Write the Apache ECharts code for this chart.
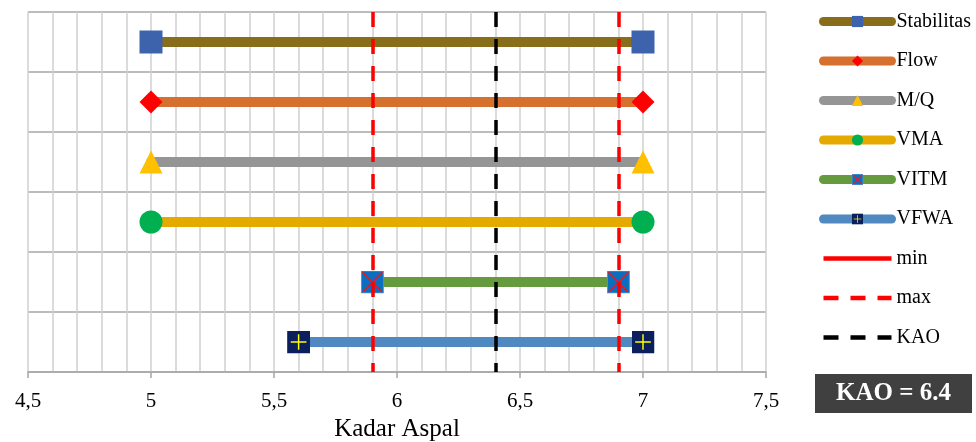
<!DOCTYPE html>
<html>
<head>
<meta charset="utf-8">
<script src="https://cdn.jsdelivr.net/npm/echarts@6/dist/echarts.min.js"></script>
<style>
  html, body { margin: 0; padding: 0; background: #fff; }
  #chart { width: 976px; height: 442px; }
</style>
</head>
<body>
<div id="chart"></div>
<script>
// Parameter ranges (asphalt content %) that satisfy each specification
const categories = ['Stabilitas', 'Flow', 'M/Q', 'VMA', 'VITM', 'VFWA'];
const rangeStart = [5, 5, 5, 5, 5.9, 5.6];
const rangeEnd   = [7, 7, 7, 7, 6.9, 7];

// Overlap limits and optimum asphalt content
const limitMin = 5.9;
const limitMax = 6.9;
const kao = 6.4;

// Axis scale
const xMin = 4.5;
const xMax = 7.5;
const xStep = 0.5;

const SERIF = '"Liberation Serif", "Times New Roman", serif';

const lineColors = ['#886D1B', '#D5702F', '#959595', '#E5AA00', '#659A3F', '#5089C0'];
const markerColors = ['#3C63AC', '#FF0000', '#FFC000', '#00B050', '#0070C0', '#0A1F5C'];

function svgSymbol(svg) {
  return 'image://data:image/svg+xml;charset=utf-8,' + encodeURIComponent(svg);
}
const crossBox = svgSymbol(
  "<svg xmlns='http://www.w3.org/2000/svg' width='44' height='44' viewBox='0 0 44 44'>" +
  "<rect x='1' y='1' width='42' height='42' fill='#0A6FC0' stroke='#4E93D2' stroke-width='2'/>" +
  "<path d='M3 3L41 41M41 3L3 41' stroke='#FF1010' stroke-width='2.8'/></svg>");
const plusBox = svgSymbol(
  "<svg xmlns='http://www.w3.org/2000/svg' width='44' height='44' viewBox='0 0 44 44'>" +
  "<rect x='0' y='0' width='44' height='44' fill='#0A1F5C'/>" +
  "<path d='M22 7V37M7 22H37' stroke='#FFFF00' stroke-width='2.8'/></svg>");
const symbols = ['rect', 'diamond', 'triangle', 'circle', crossBox, plusBox];

const rangeSeries = categories.map((name, i) => ({
  name: name,
  type: 'line',
  data: [[rangeStart[i], name], [rangeEnd[i], name]],
  symbol: symbols[i],
  symbolSize: 23,
  showAllSymbol: true,
  lineStyle: { color: lineColors[i], width: 10, cap: 'round' },
  itemStyle: { color: markerColors[i] },
  z: 3,
  silent: true
}));

function limitSeries(name, value, color, legendType) {
  return {
    name: name,
    type: 'line',
    data: [],
    symbol: 'none',
    lineStyle: { color: color, width: 4, type: legendType },
    z: 6,
    markLine: {
      silent: true,
      symbol: 'none',
      label: { show: false },
      lineStyle: { color: color, width: 3.5, type: [15, 12] },
      data: [{ xAxis: value }]
    }
  };
}

const chart = echarts.init(document.getElementById('chart'), null, { renderer: 'canvas' });

chart.setOption({
  animation: false,
  backgroundColor: '#ffffff',
  grid: { left: 28, right: 210, top: 12, bottom: 70, containLabel: false, outerBoundsMode: 'none' },
  legend: {
    orient: 'vertical',
    left: 819,
    top: 11.5,
    padding: 0,
    itemWidth: 68,
    itemHeight: 14,
    itemGap: 19.5,
    textStyle: { fontFamily: SERIF, fontSize: 20, color: '#000' },
    data: categories.map(n => ({ name: n, lineStyle: { width: 9, cap: 'round' } }))
      .concat(['min', 'max', 'KAO'].map(n => ({
        name: n, itemStyle: { opacity: 0 }, lineStyle: { width: 4.5 }
      })))
  },
  xAxis: {
    type: 'value',
    min: xMin,
    max: xMax,
    interval: xStep,
    name: 'Kadar Aspal',
    nameLocation: 'middle',
    nameGap: 42,
    nameTextStyle: { fontFamily: SERIF, fontSize: 25, color: '#000' },
    axisLine: { show: true, lineStyle: { color: '#A6A6A6', width: 1.5 } },
    axisTick: { show: true, length: 6, lineStyle: { color: '#A6A6A6', width: 1.5 } },
    axisLabel: {
      fontFamily: SERIF, fontSize: 21, color: '#000', margin: 19,
      formatter: v => String(v).replace('.', ',')
    },
    splitLine: { show: true, lineStyle: { color: '#D0D0D0', width: 1.5 } },
    minorTick: { show: false, splitNumber: 5 },
    minorSplitLine: { show: true, lineStyle: { color: '#D0D0D0', width: 1.5 } }
  },
  yAxis: {
    type: 'category',
    data: categories,
    inverse: true,
    boundaryGap: true,
    axisLine: { show: false },
    axisTick: { show: false },
    axisLabel: { show: false },
    splitLine: { show: true, lineStyle: { color: '#A6A6A6', width: 1.5 } }
  },
  series: rangeSeries.concat([
    limitSeries('min', limitMin, '#FF0000', 'solid'),
    limitSeries('max', limitMax, '#FF0000', [15, 12]),
    limitSeries('KAO', kao, '#000000', [15, 12])
  ]),
  graphic: [{
    type: 'group',
    left: 815,
    top: 374,
    children: [
      { type: 'rect', shape: { x: 0, y: 0, width: 157, height: 39 }, style: { fill: '#404040' } },
      {
        type: 'text', x: 78.5, y: 19.5,
        style: {
          text: 'KAO = ' + kao, fill: '#ffffff',
          font: 'bold 25px ' + SERIF, align: 'center', verticalAlign: 'middle'
        }
      }
    ]
  }]
});
</script>
</body>
</html>
